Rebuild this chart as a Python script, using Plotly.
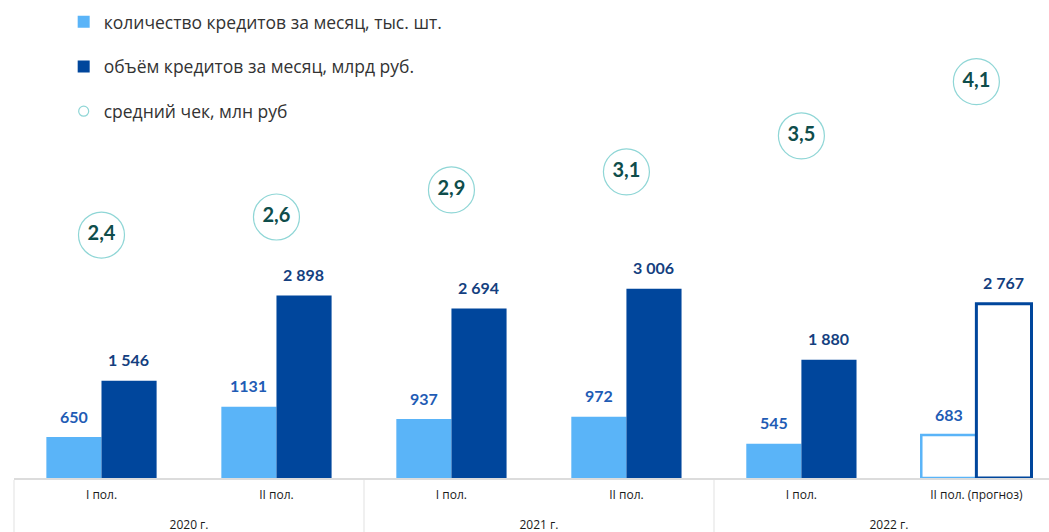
import plotly.graph_objects as go

years = ["2020 г.", "2020 г.", "2021 г.", "2021 г.", "2022 г.", "2022 г."]
halves = ["I пол.", "II пол.", "I пол.", "II пол.", "I пол.", "II пол. (прогноз)"]
count_vals = [650, 1131, 937, 972, 545, 683]
count_labels = ["650", "1131", "937", "972", "545", "683"]
volume_vals = [1546, 2898, 2694, 3006, 1880, 2767]
volume_labels = ["1 546", "2 898", "2 694", "3 006", "1 880", "2 767"]
avg_check = [2.4, 2.6, 2.9, 3.1, 3.5, 4.1]
avg_labels = ["2,4", "2,6", "2,9", "3,1", "3,5", "4,1"]
forecast = [False, False, False, False, False, True]

LIGHT = "#5ab4f8"
DARK = "#00469c"
x = [years, [h + "<br>&nbsp;" for h in halves]]

fig = go.Figure()
fig.add_trace(go.Bar(
    x=x, y=count_vals, name="количество кредитов за месяц, тыс. шт.",
    marker=dict(color=["white" if f else LIGHT for f in forecast],
                line=dict(color=LIGHT, width=[2.5 if f else 0 for f in forecast])),
    legendgroup="a", hoverinfo="skip",
))
fig.add_trace(go.Bar(
    x=x, y=volume_vals, name="объём кредитов за месяц, млрд руб.",
    marker=dict(color=["white" if f else DARK for f in forecast],
                line=dict(color=DARK, width=[3 if f else 0 for f in forecast])),
    legendgroup="b", hoverinfo="skip",
))
fig.add_trace(go.Scatter(
    x=x, y=avg_check, yaxis="y2", mode="markers+text", showlegend=False,
    marker=dict(size=46, color="white", line=dict(color="#8fd6d6", width=1.2)),
    text=["<b>" + s + "</b>" for s in avg_labels], textposition="middle center",
    textfont=dict(color="#0f4d4b", size=20, family="Lato"),
    cliponaxis=False, hoverinfo="skip",
))
fig.add_trace(go.Scatter(
    x=[None], y=[None], mode="markers", name="средний чек, млн руб",
    marker=dict(size=10, color="white", line=dict(color="#8fd6d6", width=1.2)),
    legendgroup="c",
))

# value labels above bars (positioned by category index and data value)
HALF_BAR_PX = 27.5
for i, (v, s) in enumerate(zip(count_vals, count_labels)):
    fig.add_annotation(x=i, y=v, xref="x", yref="y", text="<b>" + s + "</b>",
                       showarrow=False, xshift=-HALF_BAR_PX, yshift=21, yanchor="middle",
                       font=dict(color="#1f5cb5", size=16, family="Lato"))
for i, (v, s) in enumerate(zip(volume_vals, volume_labels)):
    fig.add_annotation(x=i, y=v, xref="x", yref="y", text="<b>" + s + "</b>",
                       showarrow=False, xshift=HALF_BAR_PX, yshift=21, yanchor="middle",
                       font=dict(color="#143f7f", size=16, family="Lato"))

fig.update_layout(
    width=1049, height=532,
    margin=dict(l=14, r=0, t=0, b=52),
    paper_bgcolor="white", plot_bgcolor="white",
    barmode="group", bargap=0.37, bargroupgap=0,
    showlegend=True,
    legend=dict(x=0.048, y=0.992, xanchor="left", yanchor="top",
                font=dict(family="Open Sans", size=17.5, color="#333333"),
                tracegroupgap=19, bgcolor="rgba(0,0,0,0)", itemwidth=30),
    xaxis=dict(type="multicategory", range=[-0.5, 5.415],
               showline=True, linecolor="#dcdcdc", linewidth=1.5,
               showgrid=False, ticks="", dividercolor="#f0f0f0", dividerwidth=1.5,
               ticklabelstandoff=5,
               tickfont=dict(family="Open Sans", size=12, color="#1a1a1a")),
    yaxis=dict(range=[0, 7594], visible=False, showgrid=False, zeroline=False),
    yaxis2=dict(range=[-0.293, 5.005], overlaying="y", visible=False, showgrid=False, zeroline=False),
    font=dict(family="Lato"),
)

fig.write_html("out.html", config={"displayModeBar": False},
               post_script="document.body.style.margin='0';")
